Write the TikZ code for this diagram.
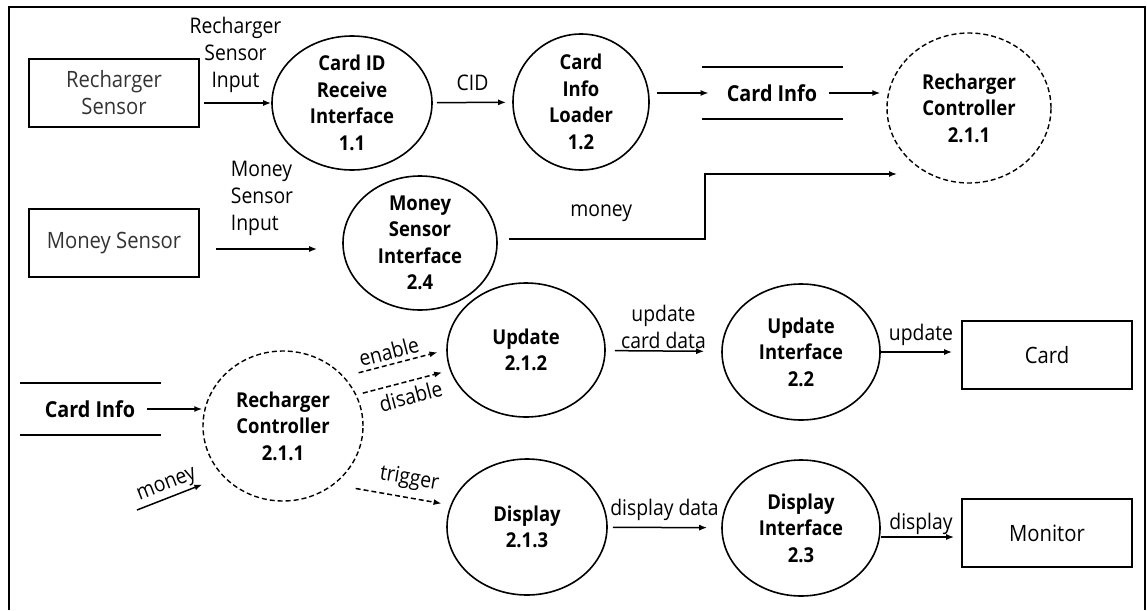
\documentclass[tikz,border=0pt]{standalone}
\usepackage{fontspec}
\setmainfont{Open Sans}[FakeStretch=0.9]
\usetikzlibrary{shapes.geometric,arrows.meta}
\tikzset{ext/.style = {draw, rectangle, line width=1.6pt, minimum width=170pt, minimum height=68pt, align=center, font=\fontsize{22.5}{27}\selectfont}}
\tikzset{proc/.style = {draw, ellipse, line width=1.6pt, inner sep=-2pt, align=center, font=\bfseries\fontsize{20.5}{26.5}\selectfont}}
\tikzset{ctrl/.style = {proc, line width=1.4pt, dash pattern=on 5pt off 3pt}}
\tikzset{store/.style = {inner xsep=12pt, font=\bfseries\fontsize{22}{24}\selectfont}}
\tikzset{lbl/.style = {inner sep=2pt, align=center, font=\fontsize{21.5}{27}\selectfont}}
\tikzset{flow/.style = {->, line width=1.5pt}}
\tikzset{dflow/.style = {flow, dash pattern=on 5pt off 3pt}}

\begin{document}
\begin{tikzpicture}[x=1pt,y=1pt,>={Latex[length=8pt,width=6pt]}]
	\useasboundingbox (0,0) rectangle (1147,-610);
	% frame, open at the bottom
	\draw [line width=1.4pt] (9,-610) -- (9,-7) -- (1145,-7) -- (1145,-610);

	% card id part
	\node [ext,text=black!80] (rsens) at (114,-93) {Recharger\\Sensor};
	\node [proc,minimum width=160pt,minimum height=134pt,right of=rsens,node distance=238pt,yshift=-10pt] (p11) {Card ID\\Receive\\Interface\\1.1};
	\node [proc,minimum width=136pt,minimum height=136pt,right of=p11,node distance=229pt,yshift=1pt] (p12) {Card\\Info\\Loader\\1.2};
	\node [store,right of=p12,node distance=191pt,yshift=9pt] (store1) {Card Info};
	\node [ctrl,minimum width=164pt,minimum height=150pt,right of=store1,node distance=197pt,yshift=-15pt] (rc1) {Recharger\\Controller\\2.1.1};

	% money part
	\node [ext,text=black!80,below of=rsens,node distance=150pt] (msens) {Money Sensor};
	\node [proc,minimum width=154pt,minimum height=134pt,right of=msens,node distance=306pt] (p24) {Money\\Sensor\\Interface\\2.4};
	\coordinate (mtip) at (897,-174);

	% controller part
	\node [store] (store2) at (90,-409) {Card Info};
	\node [ctrl,minimum width=160pt,minimum height=150pt,right of=store2,node distance=193pt,yshift=-17pt] (rc2) {Recharger\\Controller\\2.1.1};
	\node [proc,minimum width=158pt,minimum height=134pt] (p212) at (526,-350) {Update\\2.1.2};
	\node [proc,minimum width=158pt,minimum height=136pt,right of=p212,node distance=275pt,yshift=-2pt] (p22) {Update\\Interface\\2.2};
	\node [ext,right of=p22,node distance=246pt,yshift=-3pt] (card) {Card};
	\node [proc,minimum width=160pt,minimum height=136pt,below of=p212,node distance=177pt,xshift=1pt] (p213) {Display\\2.1.3};
	\node [proc,minimum width=158pt,minimum height=136pt,right of=p213,node distance=274pt,yshift=-1pt] (p23) {Display\\Interface\\2.3};
	\node [ext,right of=p23,node distance=246pt,yshift=-5pt] (mon) {Monitor};
	\coordinate (mtail) at (137,-510);

	% data store lines
	\foreach \s in {store1,store2}
		\draw [line width=2.2pt] ([shift={(-70,26)}]\s.center) -- ([shift={(71,26)}]\s.center)
			([shift={(-70,-26)}]\s.center) -- ([shift={(71,-26)}]\s.center);

	% flows of the card id part
	\draw [flow,shorten <=4pt] (rsens.east |- p11) -- node[lbl,above=8pt] {Recharger\\Sensor\\Input} (p11);
	\draw [flow,shorten <=4pt,shorten >=6pt] (p11) -- node[lbl,above=9pt] {CID} (p12);
	\draw [flow,shorten <=7pt,shorten >=6pt] (p12.east |- store1) -- (store1);
	\draw [flow,shorten >=6pt] (store1) -- (store1 -| rc1.west);

	% flows of the money part
	\draw [flow,shorten <=16pt,shorten >=25pt] ([yshift=-6pt]msens.east) -- node[lbl,above=11pt,xshift=-9pt,align=left] {Money\\Sensor\\Input} ([yshift=-6pt]msens.east -| p24.west);
	\draw [flow,shorten <=11pt] ([yshift=4pt]p24.east) -- ++(207,0) node[lbl,midway,above=15pt] {money} |- (mtip);

	% flows of the controller part
	\draw [flow] (store2) -- (store2 -| rc2.west);
	\draw [flow,shorten >=22pt] (mtail) -- node[lbl,pos=0.4,sloped,above] {money} (rc2.220);
	\draw [dflow,shorten <=15pt,shorten >=9pt] (rc2.39) -- node[lbl,pos=0.47,sloped,above=2pt] {enable} (p212.180);
	\draw [dflow,shorten <=6.5pt,shorten >=8pt] (rc2.23) -- node[lbl,pos=0.54,sloped,below=4pt] {disable} (p212.195);
	\draw [dflow,shorten <=22pt,shorten >=9pt] (rc2.311) -- node[lbl,pos=0.62,sloped,above=5pt] {trigger} (p213.164);
	\draw [flow,shorten <=9pt,shorten >=17pt] (p212) -- node[lbl,above] {update\\card data} (p22);
	\draw [flow,shorten >=9pt] (p22.east) -- node[lbl,above=4pt] {update} (p22.east -| card.west);
	\draw [flow,shorten <=5pt,shorten >=14pt] (p213) -- node[lbl,above=4pt] {display data} (p23);
	\draw [flow,shorten >=7pt] ([yshift=-9pt]p23.east) -- node[lbl,above=0pt] {display} ([yshift=-9pt]p23.east -| mon.west);

\end{tikzpicture}
\end{document}
